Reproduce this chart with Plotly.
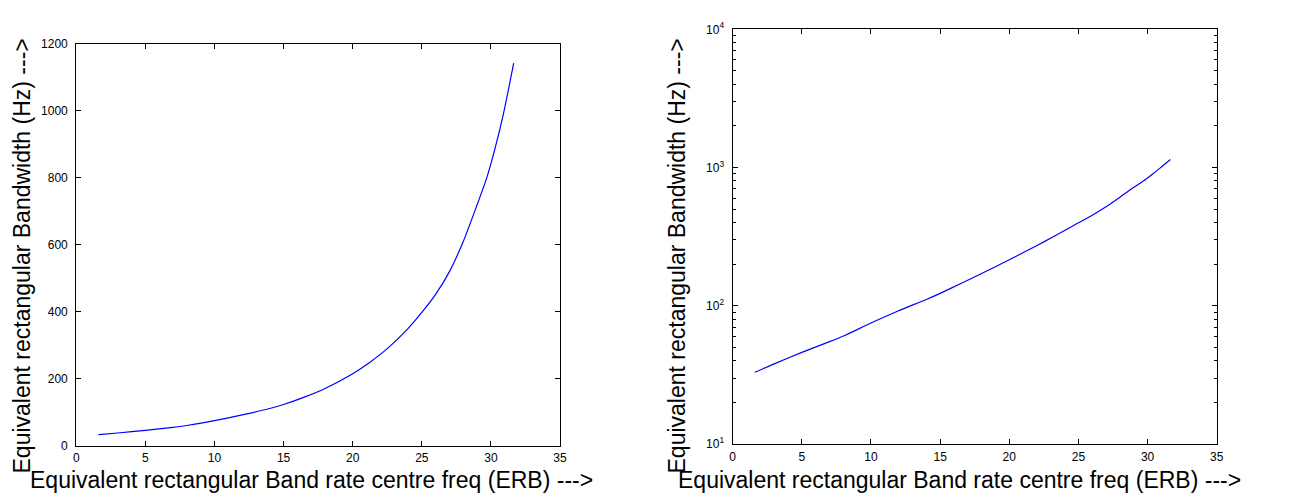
import plotly.graph_objects as go

# Values
erb_rate = [1.6, 3, 5, 7, 8.1, 10, 12, 14, 15, 16.5, 18, 20, 21.3, 22.5, 24, 25,
            26, 27, 28, 28.8, 29.7, 30.3, 30.9, 31.65]
erb_bw = [33, 38, 46, 55, 61, 75, 92, 111, 123, 145, 171, 215, 251, 290, 350, 398,
          452, 520, 610, 697, 800, 888, 990, 1143]

x_ticks = [0, 5, 10, 15, 20, 25, 30, 35]
lin_y_ticks = [0, 200, 400, 600, 800, 1000, 1200]
log_y_ticks = [10, 100, 1000, 10000]
log_y_text = ["10<sup>1</sup>", "10<sup>2</sup>", "10<sup>3</sup>", "10<sup>4</sup>"]
minor_log = [m * d for d in (10, 100, 1000) for m in range(2, 10)]

xtitle = "Equivalent rectangular Band rate centre freq (ERB) --->"
ytitle = "Equivalent rectangular Bandwidth (Hz) --->"

# page offset from default body margin
OFF = 8
W, H = 1295 - OFF, 497 - OFF
FONT = "Liberation Sans, Arial, Helvetica, sans-serif"


def px(xpix):
    return (xpix - OFF) / W


def py(ypix):
    return 1 - (ypix - OFF) / H


fig = go.Figure()
for xa, ya in (("x", "y"), ("x2", "y2")):
    fig.add_trace(go.Scatter(x=erb_rate, y=erb_bw, mode="lines",
                             line=dict(color="#0000ff", width=1.2, shape="spline", smoothing=0.6),
                             xaxis=xa, yaxis=ya, showlegend=False))

axis_common = dict(showline=True, linecolor="black", linewidth=1.3, mirror="ticks",
                   ticks="inside", ticklen=5, tickcolor="black", tickwidth=1,
                   showgrid=False, zeroline=False, automargin=False,
                   tickfont=dict(family=FONT, size=12, color="black"))

fig.update_layout(
    width=W, height=H,
    margin=dict(l=0, r=0, t=0, b=0, pad=0, autoexpand=False),
    paper_bgcolor="white", plot_bgcolor="white",
    xaxis=dict(domain=[px(76.3), px(560)], range=[0, 35], tickvals=x_ticks,
               anchor="y", ticklabelstandoff=1, **axis_common),
    yaxis=dict(domain=[py(445.7), py(44)], range=[0, 1200], tickvals=lin_y_ticks,
               anchor="x", ticklabelstandoff=5, **axis_common),
    xaxis2=dict(domain=[px(732.7), px(1216.7)], range=[0, 35], tickvals=x_ticks,
                anchor="y2", ticklabelstandoff=1, **axis_common),
    yaxis2=dict(domain=[py(444), py(29.3)], type="log", range=[1, 4],
                tickvals=log_y_ticks, ticktext=log_y_text, anchor="x2",
                ticklabelstandoff=5,
                minor=dict(ticks="inside", ticklen=3, tickcolor="black",
                           tickvals=minor_log, showgrid=False),
                **axis_common),
)

tfont = dict(family=FONT, size=23, color="black")
annos = [
    dict(x=px(28), y=py(480), text=xtitle, xanchor="left", yanchor="middle"),
    dict(x=px(676), y=py(480), text=xtitle, xanchor="left", yanchor="middle"),
    dict(x=px(21), y=py(476), text=ytitle, textangle=-90, xanchor="center", yanchor="bottom"),
    dict(x=px(676), y=py(476), text=ytitle, textangle=-90, xanchor="center", yanchor="bottom"),
]
for a in annos:
    fig.add_annotation(xref="paper", yref="paper", showarrow=False, font=tfont, **a)

fig.write_html("out.html")
